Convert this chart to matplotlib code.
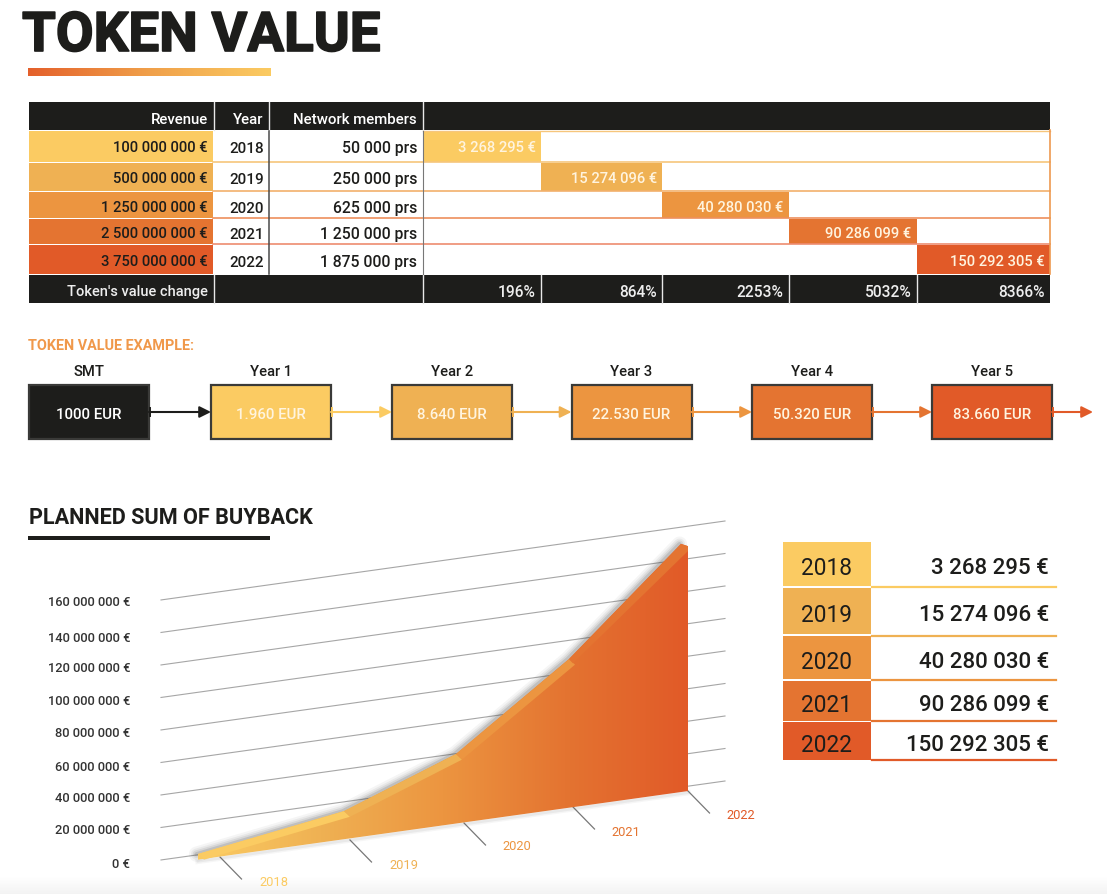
import numpy as np
import matplotlib
matplotlib.use('Agg')
import matplotlib.pyplot as plt
import matplotlib.patheffects as pe
from matplotlib.colors import LinearSegmentedColormap
from matplotlib.patches import Rectangle, Polygon
from matplotlib.transforms import Affine2D

years = ['2018', '2019', '2020', '2021', '2022']
revenue = ['100 000 000 €', '500 000 000 €', '1 250 000 000 €', '2 500 000 000 €', '3 750 000 000 €']
members = ['50 000 prs', '250 000 prs', '625 000 prs', '1 250 000 prs', '1 875 000 prs']
buyback = ['3 268 295 €', '15 274 096 €', '40 280 030 €', '90 286 099 €', '150 292 305 €']
value_change = ['196%', '864%', '2253%', '5032%', '8366%']
flow_names = ['SMT', 'Year 1', 'Year 2', 'Year 3', 'Year 4', 'Year 5']
flow_values = ['1000 EUR', '1.960 EUR', '8.640 EUR', '22.530 EUR', '50.320 EUR', '83.660 EUR']
yaxis_values = [0, 20e6, 40e6, 60e6, 80e6, 100e6, 120e6, 140e6, 160e6]
yaxis_labels = ['0 €', '20 000 000 €', '40 000 000 €', '60 000 000 €', '80 000 000 €',
                '100 000 000 €', '120 000 000 €', '140 000 000 €', '160 000 000 €']
# curve heights
curve_values = [0.5e6, 14.3e6, 39.8e6, 88.5e6, 149.7e6]

colors = ['#FBCB62', '#EFB153', '#EC9540', '#E47431', '#E15A28']
line_colors = ['#F6C67C', '#F2B06C', '#EE8F5C', '#EE8C70']
dark = '#1D1D1B'
font = 'Roboto'

plt.rcParams['font.family'] = font
fig = plt.figure(figsize=(11.07, 8.95), dpi=100)
ax = fig.add_axes([0, 0, 1, 1])


def label(x, y, s, size=10.8, color=dark, ha='right', weight='medium', **kw):
    # roboto sits a little high with va=center
    ax.text(x, y + size * 0.14, s, fontsize=size, color=color, ha=ha, va='center', fontweight=weight, **kw)


def box(x0, y0, x1, y1, color, **kw):
    ax.add_patch(Rectangle((x0, y0), x1 - x0, y1 - y0, facecolor=color, edgecolor=kw.pop('edge', 'none'), **kw))


def gradient(cols, extent, direction='h', **kw):
    cmap = LinearSegmentedColormap.from_list('g', cols)
    g = np.linspace(0, 1, 256).reshape(1, -1)
    if direction == 'v':
        g = g.T
    return ax.imshow(g, cmap=cmap, extent=extent, aspect='auto', **kw)


# page title
ax.text(22, 37, 'TOKEN VALUE', fontsize=39.4, fontweight='bold', color=dark, ha='left', va='center',
        path_effects=[pe.withStroke(linewidth=1.2, foreground=dark)])
gradient(['#E4602B', '#F0A04A', '#FBCB62'], (28, 271, 77, 69), zorder=2)

# top table
row_tops = [131.5, 163.5, 192.5, 219.5, 245.5]
row_bots = [163, 192, 219, 245, 275]
cols_x = [423, 541, 662, 788.5, 916.5, 1049.5]
box(29, 103, 1050, 131, dark)
box(29, 276, 1050, 303.5, dark)
for x in [213.5, 268.5, 422.5]:
    ax.plot([x, x], [103, 131], color='#e8e8e8', lw=1)
for x in [213.5, 422.5] + cols_x[1:-1]:
    ax.plot([x, x], [276, 303.5], color='#e8e8e8', lw=1)
label(208, 118, 'Revenue', color='white')
label(263, 118, 'Year', color='white')
label(417, 118, 'Network members', color='white')
label(208, 291, "Token's value change", size=10.5, color='#eeeeee')

rows_y = [147, 178, 207, 233, 261]
for i in range(5):
    top, bot = row_tops[i], row_bots[i]
    box(29, top, 213, bot, colors[i])
    box(cols_x[i], top, cols_x[i + 1], bot, colors[i])
    label(208, rows_y[i], revenue[i], size=10.6)
    label(264, rows_y[i], years[i], size=11)
    label(417, rows_y[i], members[i], size=11.3)
    label(cols_x[i + 1] - 5, rows_y[i], buyback[i], size=10.6, color='#FFF4DF')
    label(cols_x[i + 1] - 5, 291, value_change[i], size=11.2, color='#eeeeee')
for i in range(4):
    ax.plot([213, 1049.5], [row_bots[i] + 0.3] * 2, color=line_colors[i], lw=1.2, zorder=2)
ax.plot([423, 1049.5], [131.8, 131.8], color='#F6C67C', lw=1, zorder=2)
ax.plot([1049.5, 1049.5], [131, 275], color='#EE9A50', lw=1.2, zorder=2)
ax.plot([268.7, 268.7], [132, 275], color='#4a4a4a', lw=1.1, zorder=2)
ax.plot([422.6, 422.6], [132, 275], color='#777777', lw=0.8, zorder=2)

# token value example flow
label(28, 345, 'TOKEN VALUE EXAMPLE:', size=10.4, color='#F0984A', ha='left', weight='bold')
flow_x = [(28.5, 149), (211, 331), (392, 512), (571.5, 691.5), (752, 872), (932, 1052)]
flow_colors = [dark] + colors
flow_next = [211, 392, 571.5, 752, 932, 1093]
for i in range(6):
    x0, x1 = flow_x[i]
    box(x0, 386, x1, 440, flow_colors[i], edge='#3a3a38', lw=1.6)
    label((x0 + x1) / 2, 371, flow_names[i], size=10.6, ha='center')
    label((x0 + x1) / 2, 413.5, flow_values[i], size=10.8, color='#FFF4DF' if i else 'white', ha='center')
    ax.annotate('', xy=(flow_next[i], 413), xytext=(x1, 413),
                arrowprops=dict(arrowstyle='-|>', color=flow_colors[i], lw=1.5, mutation_scale=17,
                                shrinkA=0, shrinkB=0))
    ax.plot([x1 + 1, x1 + 1], [409, 417], color=flow_colors[i], lw=1.4)

# buyback chart
label(29, 516, 'PLANNED SUM OF BUYBACK', size=15.6, ha='left', weight='bold')
box(28, 537.3, 270, 541, dark)

# sheared axes: x stays in pixels, values rise along the slanted floor
skew = Affine2D.from_values(1, -0.14, 0, -1.625e-6, 0, 883.5) + ax.transData
label_y = [863, 829, 797, 766.5, 732.5, 700, 667, 637, 601.5]
for v, s, y in zip(yaxis_values, yaxis_labels, label_y):
    ax.plot([161, 725], [v, v], color='#A6A6A6', lw=0.8, transform=skew, zorder=1)
    label(130, y, s, size=9.3, color='#333333')

curve_x = [198, 344, 456, 569, 681]
floor = -3e6

# soft shadow along the top edge
sx = np.array(curve_x, dtype=float)
for lw, a in [(11, 0.05), (8, 0.07), (5.5, 0.10), (3, 0.16)]:
    ax.plot(sx - 1.5, np.array(curve_values), color='#444444', lw=lw, alpha=a,
            transform=skew, zorder=1.5, solid_capstyle='round', solid_joinstyle='round')
for lw, a in [(4, 0.05), (2, 0.08)]:
    ax.plot([198, 688], [floor - 1e6] * 2, color='#555555', lw=lw, alpha=a, transform=skew, zorder=1.5)

# area with a left to right gradient, clipped to the curve
verts = list(zip(curve_x, curve_values)) + [(688, curve_values[-1] - 2e6), (688, floor), (198, floor)]
area = Polygon(verts, closed=True, transform=skew, facecolor='none', edgecolor='none')
ax.add_patch(area)
im = gradient(colors, (198, 688, 895, 500), zorder=2)
im.set_clip_path(area)

# lighter strip on each curve segment
for i in range(4):
    x0, x1 = curve_x[i], curve_x[i + 1]
    v0, v1 = curve_values[i], curve_values[i + 1]
    if i == 3:
        strip = [(x0, v0), (x1, v1), (688, v1 - 2e6), (688, v1 - 5e6), (x0 + 4, v0 - 3e6)]
    else:
        strip = [(x0, v0), (x1, v1), (x1 + 6, v1 - 4e6), (x0 + 6, v0 - 4e6)]
    ax.add_patch(Polygon(strip, closed=True, transform=skew, facecolor=colors[i],
                         edgecolor='none', zorder=3))

# year ticks and labels below the floor
tick_x = [220, 350, 464, 573, 688]
tick_y = [858, 841, 824, 808, 792]
year_pos = [(274, 881), (404, 864), (517, 845), (626, 831), (741, 814)]
for i in range(5):
    ax.plot([tick_x[i], tick_x[i] + 21.5], [tick_y[i], tick_y[i] + 22], color='#777777', lw=0.9, zorder=1)
    label(year_pos[i][0], year_pos[i][1], years[i], size=9.3, color=colors[i], ha='center', weight='normal')

# table on the right
sw_tops = [543, 589, 637, 681.5, 723]
sw_bots = [587, 635, 679.5, 721.5, 760.5]
under_y = [588, 636.5, 681, 722, 761]
text_y = [566, 613, 660, 703.5, 743]
for i in range(5):
    box(783, sw_tops[i], 870.5, sw_bots[i], colors[i])
    label(826.5, text_y[i], years[i], size=16.3, ha='center', weight='normal')
    label(1049, text_y[i], buyback[i], size=16, weight='medium')
    ax.plot([872, 1056], [under_y[i]] * 2, color=colors[i], lw=1.6)

# faint grey band along the bottom edge
gradient(['#FFFFFF', '#F3F3F3'], (0, 1107, 895, 878), direction='v', zorder=0)

ax.set_xlim(0, 1107)
ax.set_ylim(895, 0)
ax.axis('off')
fig.savefig('out.png', dpi=100)
